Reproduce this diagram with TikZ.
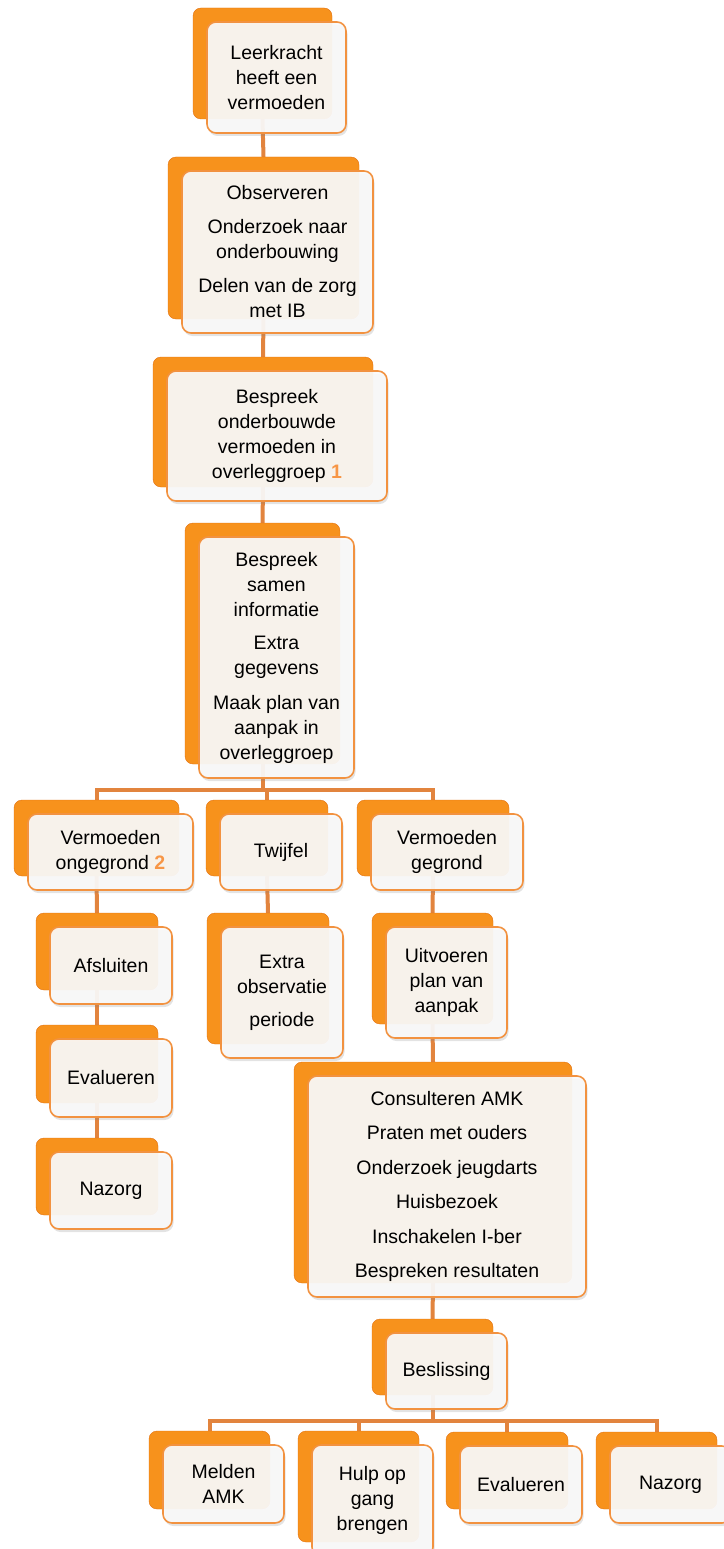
\documentclass[tikz,border=0pt]{standalone}
\usepackage{fontspec}
\setmainfont{Liberation Sans}
\usetikzlibrary{shadows,backgrounds}

\definecolor{orlight}{RGB}{254,200,110}
\definecolor{ormid}{RGB}{247,146,28}
\definecolor{ordark}{RGB}{226,112,16}
\definecolor{rim}{RGB}{242,146,64}
\definecolor{linkcol}{RGB}{226,132,62}
\definecolor{numcol}{RGB}{247,150,70}

\pgfdeclareverticalshading{gloss}{100bp}{color(0bp)=(ordark); color(20bp)=(ormid); color(88bp)=(ormid);
  color(95bp)=(orlight); color(100bp)=(ormid)}

\tikzset{
  backbox/.style={rounded corners=8pt, shading=gloss, draw=ordark, line width=0.4pt, inner sep=0pt},
  frontbox/.style={rounded corners=9pt, draw=rim, line width=1.6pt, fill=gray!4, fill opacity=0.93,
    text opacity=1, align=center, inner sep=2pt, font=\fontsize{19.5pt}{25pt}\selectfont,
    drop shadow={opacity=0.22, shadow xshift=1.5pt, shadow yshift=-3pt}},
  link/.style={draw=linkcol, line width=4pt},
}

% #1 naam, #2 x, #3 y, #4 breedte, #5 hoogte, #6 tekst
\newcommand{\stap}[6]{%
  \node[backbox, minimum width=#4pt, minimum height=#5pt, xshift=-14pt, yshift=14pt] (#1b) at (#2,#3) {};
  \node[frontbox, minimum width=#4pt, minimum height=#5pt] (#1) at (#2,#3) {#6};}
\newcommand{\nr}[1]{\textbf{\textcolor{numcol}{#1}}}

\begin{document}
\begin{tikzpicture}[x=1pt, y=-1pt]
  \useasboundingbox (0,0) rectangle (723,1549);

  % ==================== 1. hoofdlijn ====================
  \stap{lk}{276.5}{77.5}{139}{111}{Leerkracht\\ heeft een\\ vermoeden}
  \stap{obs}{277.5}{252}{191}{162}{Observeren\\[9pt] Onderzoek naar\\ onderbouwing\\[9pt] Delen van de zorg\\ met IB}
  \stap{besp}{277}{436}{220}{130}{Bespreek\\ onderbouwde\\ vermoeden in\\ overleggroep \nr{1}}
  \stap{samen}{276.5}{657.5}{155}{241}{Bespreek\\ samen\\ informatie\\[8pt] Extra\\ gegevens\\[10pt] Maak plan van\\ aanpak in\\ overleggroep}

  % ==================== 2. drie uitkomsten ====================
  \stap{ong}{110.5}{852}{165}{76}{Vermoeden\\ ongegrond \nr{2}}
  \stap{twijfel}{281}{852}{122}{76}{Twijfel}
  \stap{gegrond}{447}{852}{152}{76}{Vermoeden\\ gegrond}

  % links: ongegrond
  \stap{afsl}{111}{965.5}{122}{77}{Afsluiten}
  \stap{evalA}{111}{1078}{122}{78}{Evalueren}
  \stap{nazA}{111}{1190.5}{122}{77}{Nazorg}

  % midden: twijfel
  \stap{extra}{282}{992.5}{122}{131}{Extra\\ observatie\\[8pt] periode}

  % rechts: gegrond
  \stap{uitv}{446.5}{982.5}{121}{111}{Uitvoeren\\ plan van\\ aanpak}
  \stap{amk}{447}{1186.5}{278}{221}{Consulteren AMK\\[9.5pt] Praten met ouders\\[9.5pt] Onderzoek jeugdarts\\[9.5pt] Huisbezoek\\[9.5pt] Inschakelen I-ber\\[9.5pt] Bespreken resultaten}
  \stap{besl}{446.5}{1371}{121}{76}{Beslissing}

  % ==================== 3. beslissing ====================
  \stap{melden}{223.5}{1484}{121}{78}{Melden\\ AMK}
  \stap{hulp}{372.5}{1500.5}{121}{111}{Hulp op\\ gang\\ brengen}
  \stap{evalB}{521}{1484.5}{122}{77}{Evalueren}
  \stap{nazB}{670.5}{1484.5}{121}{77}{Nazorg}

  % ==================== 4. verbindingslijnen ====================
  \coordinate (barA) at (0,790);
  \coordinate (barB) at (0,1421);
  \begin{scope}[on background layer]
    \draw[link] (lkb.south) -- (obsb.north);
    \draw[link] (obsb.south) -- (bespb.north);
    \draw[link] (bespb.south) -- (samenb.north);
    \foreach \kind in {ongb, twijfelb, gegrondb}
      \draw[link] (samenb.south) -- (samenb.south |- barA) -| (\kind.north);
    \draw[link] (ongb.south) -- (afslb.north);
    \draw[link] (afslb.south) -- (evalAb.north);
    \draw[link] (evalAb.south) -- (nazAb.north);
    \draw[link] (twijfelb.south) -- (extrab.north);
    \draw[link] (gegrondb.south) -- (uitvb.north);
    \draw[link] (uitvb.south) -- (amkb.north);
    \draw[link] (amkb.south) -- (beslb.north);
    \foreach \kind in {meldenb, hulpb, evalBb, nazBb}
      \draw[link] (beslb.south) -- (beslb.south |- barB) -| (\kind.north);
  \end{scope}
\end{tikzpicture}
\end{document}
